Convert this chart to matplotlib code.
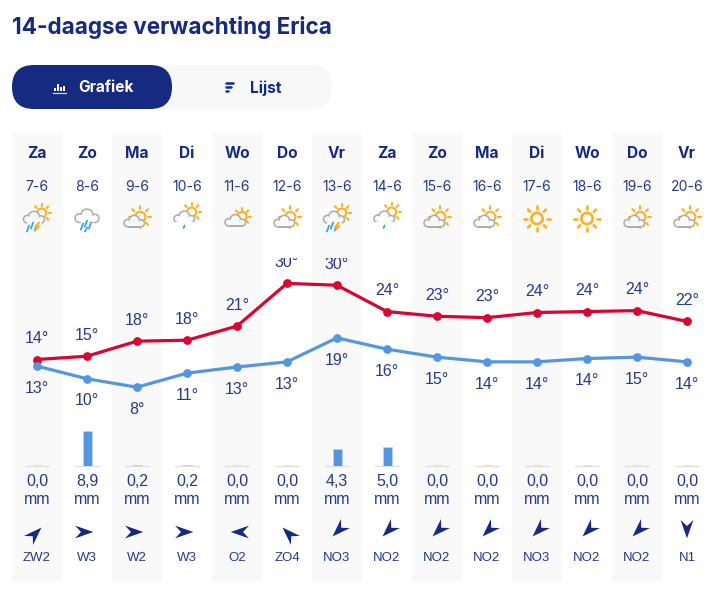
import numpy as np
import matplotlib
matplotlib.use("Agg")
import matplotlib.pyplot as plt
from matplotlib.patches import Circle, FancyBboxPatch, Polygon, Rectangle
from matplotlib.transforms import Affine2D

# ---- data -------------------------------------------------------------
days = ["Za", "Zo", "Ma", "Di", "Wo", "Do", "Vr", "Za", "Zo", "Ma", "Di", "Wo", "Do", "Vr"]
dates = ["7-6", "8-6", "9-6", "10-6", "11-6", "12-6", "13-6", "14-6", "15-6", "16-6", "17-6", "18-6", "19-6", "20-6"]
icons = ["storm", "rain", "half", "drop", "mostly", "half", "storm", "drop", "half", "half", "sun", "sun", "half", "half"]
tmax = [14.0, 14.7, 17.9, 18.1, 21.1, 30.2, 29.8, 24.2, 23.2, 22.9, 24.0, 24.2, 24.4, 22.1]
tmin = [12.6, 9.9, 8.1, 11.1, 12.4, 13.5, 18.6, 16.2, 14.5, 13.5, 13.5, 14.2, 14.5, 13.5]
tmax_labels = [14, 15, 18, 18, 21, 30, 30, 24, 23, 23, 24, 24, 24, 22]
tmin_labels = [13, 10, 8, 11, 13, 13, 19, 16, 15, 14, 14, 14, 15, 14]
rain = [0.0, 8.9, 0.2, 0.2, 0.0, 0.0, 4.3, 5.0, 0.0, 0.0, 0.0, 0.0, 0.0, 0.0]
wind = ["ZW2", "W3", "W2", "W3", "O2", "ZO4", "NO3", "NO2", "NO2", "NO2", "NO3", "NO2", "NO2", "N1"]
bearing = {"N": 180, "NO": 225, "O": 270, "ZO": 315, "Z": 0, "ZW": 45, "W": 90, "NW": 135}

# ---- style ------------------------------------------------------------
NAVY = "#152a80"
TXT = "#25388c"
RED = "#d9042f"
BLUE = "#5596e0"
STRIPE = "#f9f9f9"
AMBER = "#fdb022"
GREY = "#adadad"
HEAD = "Inter"
BODY = "Liberation Sans"
W, H = 715, 589
PX = 0.72  # px -> pt at 100 dpi

fig = plt.figure(figsize=(W / 100, H / 100), dpi=100, facecolor="white")
bg = fig.add_axes([0, 0, 1, 1], zorder=0)
bg.set_xlim(0, W)
bg.set_ylim(H, 0)
bg.axis("off")


def col_x(i):
    return 37 + 50 * i


def col_bg(i):
    return STRIPE if i % 2 == 0 else "white"


# ---- header -----------------------------------------------------------
bg.text(12, 27.5, "14-daagse verwachting Erica", fontsize=22.5 * PX, fontweight="bold",
        family=HEAD, color=NAVY, va="center", ha="left")
bg.add_patch(FancyBboxPatch((12, 65), 320, 44, boxstyle="round,pad=0,rounding_size=22",
                            fc="#f8f8f8", ec="none"))
bg.add_patch(FancyBboxPatch((12, 65), 160, 44, boxstyle="round,pad=0,rounding_size=22",
                            fc=NAVY, ec="none", zorder=2))
bg.text(106, 88, "Grafiek", fontsize=15.4 * PX, fontweight="bold", family=HEAD, color="white",
        ha="center", va="center", zorder=3)
bg.text(266, 88, "Lijst", fontsize=15.4 * PX, fontweight="bold", family=HEAD, color=NAVY,
        ha="center", va="center", zorder=3)
for dx, h in zip([55, 58, 61, 64], [3, 7, 4, 5]):
    bg.add_patch(Rectangle((dx - 0.7, 91 - h), 1.6, h, fc="white", ec="none", zorder=3))
bg.plot([53, 66], [92.5, 92.5], color="#d0d5ea", lw=0.9, zorder=3)
for yy, x1 in zip([82.5, 86.5, 90.5], [233, 231, 228]):
    bg.plot([226, x1], [yy, yy], color=NAVY, lw=1.8, solid_capstyle="round", zorder=3)

# ---- column stripes and per-day texts ---------------------------------
for i in range(14):
    if i % 2 == 0:
        bg.add_patch(Rectangle((col_x(i) - 25, 133), 50, 448, fc=STRIPE, ec="none"))
    bg.text(col_x(i), 153.5, days[i], fontsize=15.5 * PX, fontweight="bold", family=HEAD,
            color=NAVY, ha="center", va="center")
    bg.text(col_x(i), 187, dates[i], fontsize=14 * PX, family=HEAD, color=TXT,
            ha="center", va="center")
    val = f"{rain[i]:.1f}".replace(".", ",")
    bg.text(col_x(i), 485.5, val, fontsize=16 * PX, family=BODY, color=TXT, ha="center", va="baseline")
    bg.text(col_x(i), 504, "mm", fontsize=16 * PX, family=BODY, color=TXT, ha="center", va="baseline")
    bg.text(col_x(i), 561, wind[i], fontsize=13.3 * PX, family=BODY, color=TXT, ha="center", va="baseline")


# ---- weather icons ----------------------------------------------------
def draw_sun(x, y, r, rmin, rmax, lw=1.5, z=3):
    bg.add_patch(Circle((x, y), r, fc="none", ec=AMBER, lw=lw, zorder=z))
    for a in np.arange(0, 360, 45):
        c, s = np.cos(np.radians(a)), np.sin(np.radians(a))
        bg.plot([x + rmin * c, x + rmax * c], [y + rmin * s, y + rmax * s], color=AMBER,
                lw=lw, solid_capstyle="round", zorder=z)


def draw_cloud(x, y, w, fill, z=4):
    # x,y = left/bottom of the cloud; w = width
    k = w / 21.0
    parts = [(x + 3.8 * k, y - 3.8 * k, 3.8 * k), (x + 10.5 * k, y - 6.3 * k, 5.4 * k),
             (x + 17.4 * k, y - 3.6 * k, 3.6 * k)]
    for cx, cy, r in parts:
        bg.add_patch(Circle((cx, cy), r + 0.8, fc=GREY, ec="none", zorder=z))
    bg.add_patch(Rectangle((x + 3.8 * k, y - 4 * k), 13.6 * k, 4 * k + 0.8, fc=GREY, ec="none", zorder=z))
    for cx, cy, r in parts:
        bg.add_patch(Circle((cx, cy), r - 0.8, fc=fill, ec="none", zorder=z + 0.1))
    bg.add_patch(Rectangle((x + 3.8 * k, y - 4 * k), 13.6 * k, 4 * k - 0.8, fc=fill, ec="none", zorder=z + 0.1))


def draw_streaks(x, y, n=4):
    for dx, dy, ln in [(0, 3, 6), (4, 0, 6), (8, 2, 6), (4, 7, 4)][:n]:
        bg.plot([x + dx + 1.6, x + dx - 0.6], [y + dy, y + dy + ln], color="#35a7e6", lw=1.3,
                solid_capstyle="round", zorder=6)


def draw_icon(i):
    x, f, kind = col_x(i), col_bg(i), icons[i]
    if kind == "sun":
        draw_sun(x, 218.5, 5.6, 9.6, 12.6, lw=1.9)
    elif kind == "half":
        draw_sun(x + 3.2, 217, 5.2, 8.2, 11)
        draw_cloud(x - 13, 226.8, 20.5, f)
    elif kind == "mostly":
        draw_sun(x + 5, 216.5, 4.5, 6.6, 8.6)
        draw_cloud(x - 12, 226, 20.5, f)
    elif kind == "drop":
        draw_sun(x + 4.7, 212, 4.5, 7, 9.5)
        draw_cloud(x - 13, 222.5, 20.5, f)
        bg.add_patch(Rectangle((x - 13, 222.3), 21, 3, fc=f, ec="none", zorder=5))
        bg.plot([x - 2.4, x - 3.4], [225.5, 228], color="#35a7e6", lw=1.3, zorder=6,
                solid_capstyle="round")
    elif kind == "rain":
        draw_cloud(x - 12, 222.5, 24, f)
        bg.add_patch(Rectangle((x - 6, 219), 11, 5, fc=f, ec="none", zorder=5))
        draw_streaks(x - 5.5, 220.5)
    elif kind == "storm":
        draw_sun(x + 4.7, 213, 4.5, 7, 9.5)
        draw_cloud(x - 13.5, 223, 21, f)
        bg.add_patch(Rectangle((x - 10, 220), 15, 5, fc=f, ec="none", zorder=5))
        draw_streaks(x - 9.5, 222.5, 3)
        bg.add_patch(Polygon([[x + 1, 222], [x - 3.5, 228], [x - 0.7, 228], [x - 3, 232.5],
                              [x + 4, 226], [x + 1, 226], [x + 3.5, 222]],
                             fc=AMBER, ec="none", zorder=6))


for i in range(14):
    draw_icon(i)

# ---- wind arrows ------------------------------------------------------
arrow = np.array([[6.3, 0], [-12, -6.4], [-6, 0], [-12, 6.4]])
for i, w in enumerate(wind):
    direction = bearing[w.rstrip("0123456789")]
    tr = Affine2D().rotate_deg(direction - 90).translate(col_x(i), 532)
    bg.add_patch(Polygon(tr.transform(arrow), closed=True, fc=NAVY, ec="none", zorder=3))

# ---- temperature chart ------------------------------------------------
x = np.arange(14)
PX_PER_DEG = 4.7
top_px, bot_px = 258, 425
ax = fig.add_axes([12 / W, 1 - bot_px / H, 700 / W, (bot_px - top_px) / H], zorder=2)
ax.patch.set_alpha(0)
ax.axis("off")
ax.set_xlim(-0.5, 13.5)
ax.set_ylim(14 + (359.5 - bot_px) / PX_PER_DEG, 14 + (359.5 - top_px) / PX_PER_DEG)
ax.plot(x, tmax, color=RED, lw=2.3, marker="o", ms=6.3, mew=0, solid_joinstyle="round", clip_on=False)
ax.plot(x, tmin, color=BLUE, lw=2.3, marker="o", ms=6.3, mew=0, solid_joinstyle="round", clip_on=False)
for i in x:
    t1 = ax.annotate(f"{tmax_labels[i]}°", (i, tmax[i]), xytext=(0, 16.5 * PX), textcoords="offset points",
                     ha="center", va="baseline", fontsize=16 * PX, family=BODY, color=TXT,
                     annotation_clip=False)
    t2 = ax.annotate(f"{tmin_labels[i]}°", (i, tmin[i]), xytext=(0, -26.7 * PX), textcoords="offset points",
                     ha="center", va="baseline", fontsize=16 * PX, family=BODY, color=TXT,
                     annotation_clip=False)
    for t in (t1, t2):
        t.set_clip_path(ax.patch)
        t.set_clip_on(True)

# ---- rain bars --------------------------------------------------------
PX_PER_MM = 3.9
rtop, rbase = 425, 466
axr = fig.add_axes([12 / W, 1 - rbase / H, 700 / W, (rbase - rtop) / H], zorder=2)
axr.patch.set_alpha(0)
axr.axis("off")
axr.set_xlim(-0.5, 13.5)
axr.set_ylim(0, (rbase - rtop) / PX_PER_MM)
for i in x:
    axr.plot([i - 0.24, i + 0.24], [-0.12, -0.12], color="#e2e2e2", lw=1.0, clip_on=False, zorder=1)
axr.bar(x, [0.25] * 14, width=0.18, color="#dce3f0", zorder=2)
axr.bar(x, rain, width=0.18, color=BLUE, edgecolor="#bcd4f0", linewidth=0.6, zorder=3)

fig.savefig("out.png", dpi=100)
